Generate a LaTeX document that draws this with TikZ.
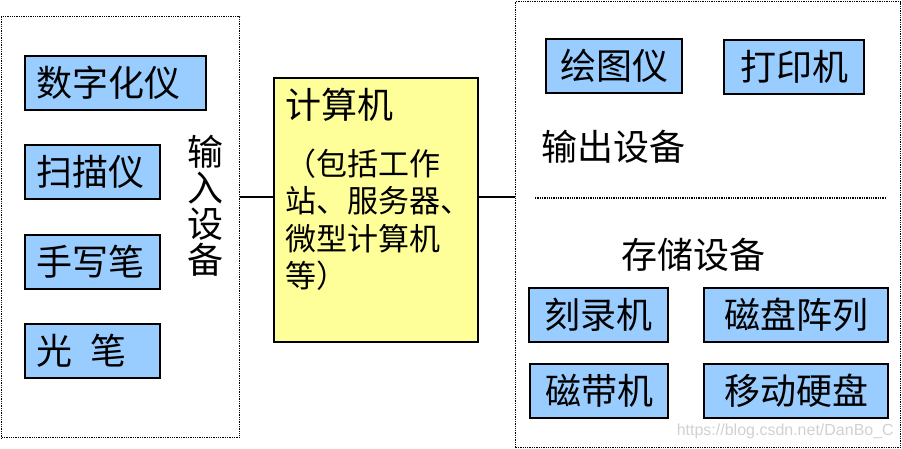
\documentclass[tikz,border=0pt]{standalone}
\usepackage{fontspec}
\newfontfamily\cjk{Noto Sans CJK SC}
\newfontfamily\markfont{Liberation Sans}
\definecolor{devblue}{RGB}{153,204,255}
\definecolor{cpuyellow}{RGB}{255,255,153}
\begin{document}
\begin{tikzpicture}[
			x=1pt, y=-1pt,
			every node/.style={font=\cjk\fontsize{36}{36}\selectfont},
			devbox/.style={draw, line width=2pt, fill=devblue, anchor=north west, minimum height=54pt, inner xsep=11pt},
			frame/.style={draw, densely dotted, line width=1.3pt, anchor=north west, inner sep=0pt},
			link/.style={line width=2.4pt},
			subline/.style={anchor=base west, inner sep=0pt, font=\cjk\fontsize{31}{31}\selectfont}
		]
		\useasboundingbox (0,0) rectangle (902,449);

		\node[frame, minimum width=238pt, minimum height=421pt] (inputs) at (1,16) {};
		\node[frame, minimum width=385pt, minimum height=446pt] (outputs) at (515,1) {};

		\node[devbox, text width=159pt, align=left] (digitizer) at (24,55) {数字化仪};
		\node[devbox, text width=113pt, align=left] (scanner) at (24,144) {扫描仪};
		\node[devbox, text width=113pt, align=left] (handpen) at (24,234) {手写笔};
		\node[devbox, text width=113pt, align=left] (lightpen) at (24,323) {光\hspace{0.5em}笔};
		\node[align=center, inner sep=0pt] (inputlabel) at (205,206) {输\\入\\设\\备};

		\node[draw, line width=2pt, fill=cpuyellow, anchor=north west, minimum width=204pt, minimum height=264pt] (cpu) at (273,77) {};
		\node[anchor=base west, inner sep=0pt] (cputitle) at (285,119) {计算机};
		\foreach \txt/\y in {（包括工作/176, 站、服务器、/213, 微型计算机/250, 等）/287}
			\node[subline] (cpuline\y) at (285,\y) {\txt};

		\node[devbox, minimum width=136pt] (plotter) at (545,38) {绘图仪};
		\node[devbox, minimum width=140pt] (printer) at (723,39) {打印机};
		\node[anchor=west, inner sep=0pt] (outlabel) at (541,147) {输出设备};
		\draw[densely dotted, line width=1.3pt] (535,198) -- (886,198);
		\node[anchor=west, inner sep=0pt] (storelabel) at (621,255) {存储设备};
		\node[devbox, minimum width=139pt] (burner) at (528,287) {刻录机};
		\node[devbox, minimum width=184pt] (diskarray) at (703,287) {磁盘阵列};
		\node[devbox, minimum width=138pt] (tape) at (529,363) {磁带机};
		\node[devbox, minimum width=184pt] (mobiledisk) at (703,363) {移动硬盘};

		\coordinate (linky) at (0,197);
		\draw[link] (inputs.east |- linky) -- (cpu.west |- linky);
		\draw[link] (cpu.east |- linky) -- (outputs.west |- linky);

		\node[anchor=east, inner sep=0pt, text=black!18, font=\markfont\fontsize{16}{16}\selectfont] (mark) at (894,431) {https://blog.csdn.net/DanBo\_C};
	\end{tikzpicture}
\end{document}
